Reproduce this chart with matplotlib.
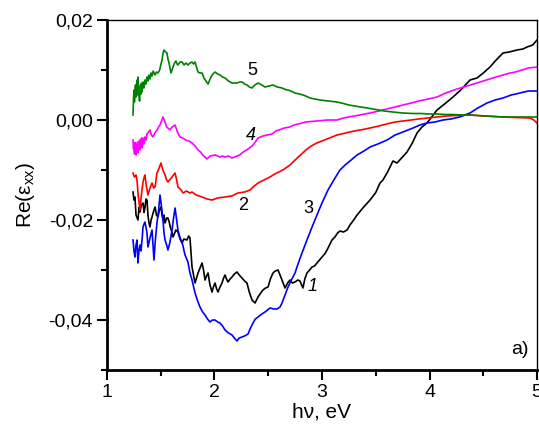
import matplotlib
matplotlib.use("Agg")
import matplotlib.pyplot as plt
from matplotlib.ticker import MultipleLocator, FuncFormatter

plt.rcParams['font.family'] = ['Liberation Sans', 'DejaVu Sans']
plt.rcParams['mathtext.fontset'] = 'custom'
plt.rcParams['mathtext.rm'] = 'Liberation Sans'
plt.rcParams['mathtext.it'] = 'Liberation Sans:italic'

# (photon energy eV, Re(eps_xx))
curve1 = [(1.242,-0.0144),(1.251,-0.0160),(1.260,-0.0154),(1.270,-0.0190),(1.288,-0.0200),(1.298,-0.0175),
          (1.307,-0.0184),(1.320,-0.0170),(1.335,-0.0166),(1.345,-0.0185),(1.353,-0.0175),(1.363,-0.0158),
          (1.372,-0.0160),(1.381,-0.0190),(1.390,-0.0205),(1.400,-0.0214),(1.410,-0.0200),(1.419,-0.0194),
          (1.430,-0.0185),(1.447,-0.0174),(1.460,-0.0190),(1.474,-0.0194),(1.488,-0.0180),(1.502,-0.0174),
          (1.512,-0.0190),(1.521,-0.0200),(1.530,-0.0190),(1.540,-0.0206),(1.555,-0.0196),(1.567,-0.0196),
          (1.580,-0.0205),(1.590,-0.0215),(1.605,-0.0225),(1.614,-0.0234),(1.630,-0.0226),(1.640,-0.0220),
          (1.660,-0.0224),(1.680,-0.0238),(1.698,-0.0246),(1.715,-0.0238),(1.744,-0.0240),(1.760,-0.0232),
          (1.772,-0.0236),(1.791,-0.0294),(1.819,-0.0326),(1.847,-0.0306),(1.865,-0.0296),(1.884,-0.0286),
          (1.898,-0.0300),(1.912,-0.0320),(1.926,-0.0312),(1.940,-0.0306),(1.958,-0.0330),(1.977,-0.0344),
          (1.990,-0.0334),(2.005,-0.0326),(2.020,-0.0338),(2.033,-0.0344),(2.051,-0.0334),(2.070,-0.0326),
          (2.085,-0.0316),(2.098,-0.0310),(2.112,-0.0318),(2.126,-0.0324),(2.145,-0.0318),(2.163,-0.0314),
          (2.185,-0.0308),(2.209,-0.0304),(2.230,-0.0310),(2.256,-0.0316),(2.280,-0.0322),(2.302,-0.0326),
          (2.325,-0.0345),(2.349,-0.0360),(2.377,-0.0366),(2.405,-0.0354),(2.430,-0.0346),(2.451,-0.0340),
          (2.475,-0.0336),(2.498,-0.0334),(2.520,-0.0318),(2.544,-0.0306),(2.565,-0.0302),(2.591,-0.0300),
          (2.610,-0.0310),(2.628,-0.0320),(2.656,-0.0336),(2.680,-0.0326),(2.702,-0.0320),(2.725,-0.0326),
          (2.749,-0.0324),(2.775,-0.0320),(2.795,-0.0322),(2.823,-0.0336),(2.840,-0.0318),(2.860,-0.0306),
          (2.885,-0.0300),(2.907,-0.0294),(2.930,-0.0292),(2.953,-0.0286),(2.975,-0.0280),(3.000,-0.0274),
          (3.025,-0.0268),(3.047,-0.0260),(3.070,-0.0250),(3.093,-0.0240),(3.120,-0.0234),(3.145,-0.0226),
          (3.167,-0.0222),(3.200,-0.0224),(3.233,-0.0220),(3.260,-0.0210),(3.288,-0.0202),(3.326,-0.0190),
          (3.380,-0.0176),(3.447,-0.0160),(3.500,-0.0145),(3.540,-0.0126),(3.567,-0.0120),(3.610,-0.0104),
          (3.660,-0.0082),(3.698,-0.0086),(3.740,-0.0076),(3.791,-0.0064),(3.840,-0.0046),(3.884,-0.0026),
          (3.930,-0.0014),(3.977,-0.0006),(4.020,0.0006),(4.070,0.0020),(4.140,0.0032),(4.219,0.0046),
          (4.300,0.0062),(4.377,0.0080),(4.442,0.0084),(4.500,0.0094),(4.563,0.0106),(4.620,0.0120),
          (4.684,0.0134),(4.740,0.0136),(4.814,0.0140),(4.870,0.0142),(4.907,0.0146),(4.960,0.0150),
          (5.000,0.0160)]

curve2 = [(1.242,-0.0106),(1.255,-0.0114),(1.270,-0.0110),(1.279,-0.0120),(1.290,-0.0150),(1.307,-0.0180),
          (1.320,-0.0150),(1.335,-0.0124),(1.345,-0.0115),(1.353,-0.0110),(1.365,-0.0130),(1.381,-0.0150),
          (1.400,-0.0136),(1.419,-0.0126),(1.435,-0.0136),(1.447,-0.0134),(1.465,-0.0106),(1.485,-0.0096),
          (1.502,-0.0086),(1.520,-0.0100),(1.540,-0.0110),(1.555,-0.0120),(1.567,-0.0124),(1.590,-0.0118),
          (1.605,-0.0114),(1.633,-0.0106),(1.648,-0.0120),(1.660,-0.0134),(1.690,-0.0140),(1.707,-0.0146),
          (1.740,-0.0142),(1.770,-0.0146),(1.791,-0.0144),(1.830,-0.0150),(1.860,-0.0152),(1.884,-0.0154),
          (1.930,-0.0158),(1.977,-0.0160),(2.030,-0.0156),(2.098,-0.0154),(2.160,-0.0152),(2.219,-0.0146),
          (2.280,-0.0144),(2.330,-0.0140),(2.370,-0.0132),(2.405,-0.0126),(2.460,-0.0120),(2.516,-0.0114),
          (2.560,-0.0108),(2.600,-0.0104),(2.650,-0.0098),(2.702,-0.0090),(2.750,-0.0080),(2.800,-0.0070),
          (2.850,-0.0060),(2.900,-0.0052),(2.950,-0.0046),(3.000,-0.0042),(3.070,-0.0036),(3.140,-0.0030),
          (3.220,-0.0026),(3.300,-0.0022),(3.380,-0.0019),(3.447,-0.0016),(3.530,-0.0012),(3.600,-0.0008),
          (3.680,-0.0004),(3.753,-0.0002),(3.830,0.0000),(3.900,0.0002),(3.980,0.0004),(4.070,0.0006),
          (4.150,0.0008),(4.250,0.0009),(4.377,0.0010),(4.500,0.0008),(4.600,0.0007),(4.684,0.0006),
          (4.800,0.0005),(4.935,0.0004),(4.970,0.0000),(5.000,-0.0006)]

curve3 = [(1.242,-0.0240),(1.251,-0.0262),(1.260,-0.0274),(1.270,-0.0250),(1.279,-0.0240),(1.288,-0.0286),
          (1.298,-0.0260),(1.307,-0.0250),(1.316,-0.0262),(1.326,-0.0240),(1.335,-0.0214),(1.345,-0.0208),
          (1.353,-0.0204),(1.363,-0.0215),(1.372,-0.0226),(1.381,-0.0254),(1.400,-0.0236),(1.419,-0.0220),
          (1.428,-0.0250),(1.437,-0.0280),(1.450,-0.0240),(1.465,-0.0206),(1.480,-0.0180),(1.493,-0.0150),
          (1.505,-0.0170),(1.521,-0.0200),(1.530,-0.0225),(1.540,-0.0240),(1.555,-0.0250),(1.567,-0.0260),
          (1.585,-0.0245),(1.605,-0.0220),(1.620,-0.0195),(1.633,-0.0176),(1.645,-0.0195),(1.660,-0.0220),
          (1.680,-0.0236),(1.698,-0.0244),(1.726,-0.0270),(1.753,-0.0284),(1.772,-0.0306),(1.791,-0.0320),
          (1.819,-0.0346),(1.840,-0.0360),(1.865,-0.0374),(1.890,-0.0384),(1.912,-0.0390),(1.935,-0.0398),
          (1.958,-0.0404),(1.980,-0.0400),(2.005,-0.0400),(2.030,-0.0404),(2.051,-0.0406),(2.075,-0.0412),
          (2.098,-0.0420),(2.130,-0.0426),(2.163,-0.0430),(2.185,-0.0436),(2.209,-0.0442),(2.230,-0.0436),
          (2.256,-0.0434),(2.280,-0.0432),(2.312,-0.0428),(2.335,-0.0416),(2.358,-0.0406),(2.380,-0.0398),
          (2.405,-0.0394),(2.440,-0.0388),(2.470,-0.0384),(2.516,-0.0376),(2.550,-0.0378),(2.581,-0.0378),
          (2.610,-0.0374),(2.628,-0.0366),(2.656,-0.0350),(2.684,-0.0334),(2.715,-0.0320),(2.749,-0.0306),
          (2.780,-0.0286),(2.814,-0.0266),(2.860,-0.0240),(2.900,-0.0218),(2.953,-0.0190),(3.000,-0.0166),
          (3.056,-0.0140),(3.110,-0.0120),(3.167,-0.0100),(3.215,-0.0090),(3.260,-0.0082),(3.326,-0.0070),
          (3.390,-0.0062),(3.447,-0.0054),(3.520,-0.0048),(3.605,-0.0040),(3.680,-0.0030),(3.753,-0.0024),
          (3.800,-0.0020),(3.847,-0.0016),(3.910,-0.0010),(3.977,-0.0006),(4.050,-0.0004),(4.126,0.0000),
          (4.200,0.0002),(4.280,0.0006),(4.377,0.0014),(4.450,0.0024),(4.535,0.0034),(4.610,0.0040),
          (4.684,0.0044),(4.760,0.0050),(4.842,0.0054),(4.920,0.0058),(5.000,0.0058)]

curve4 = [(1.242,-0.0040),(1.247,-0.0058),(1.251,-0.0048),(1.256,-0.0068),(1.260,-0.0045),(1.265,-0.0064),
          (1.270,-0.0070),(1.275,-0.0050),(1.279,-0.0062),(1.284,-0.0044),(1.288,-0.0066),(1.293,-0.0050),
          (1.298,-0.0058),(1.303,-0.0040),(1.307,-0.0060),(1.312,-0.0042),(1.316,-0.0052),(1.321,-0.0036),
          (1.326,-0.0056),(1.330,-0.0040),(1.335,-0.0036),(1.344,-0.0048),(1.353,-0.0034),(1.362,-0.0040),
          (1.372,-0.0028),(1.386,-0.0024),(1.400,-0.0020),(1.414,-0.0030),(1.428,-0.0034),(1.446,-0.0026),
          (1.465,-0.0020),(1.480,-0.0014),(1.493,-0.0010),(1.507,-0.0002),(1.521,0.0006),(1.540,-0.0004),
          (1.555,-0.0014),(1.567,-0.0016),(1.586,-0.0020),(1.605,-0.0014),(1.633,-0.0010),(1.655,-0.0024),
          (1.679,-0.0034),(1.705,-0.0036),(1.730,-0.0040),(1.760,-0.0042),(1.791,-0.0046),(1.820,-0.0052),
          (1.847,-0.0060),(1.870,-0.0064),(1.890,-0.0070),(1.910,-0.0074),(1.930,-0.0078),(1.960,-0.0072),
          (2.005,-0.0070),(2.030,-0.0072),(2.050,-0.0074),(2.075,-0.0072),(2.098,-0.0074),(2.130,-0.0072),
          (2.163,-0.0076),(2.190,-0.0074),(2.210,-0.0072),(2.235,-0.0070),(2.256,-0.0066),(2.280,-0.0062),
          (2.300,-0.0060),(2.325,-0.0056),(2.349,-0.0052),(2.380,-0.0044),(2.405,-0.0036),(2.450,-0.0032),
          (2.490,-0.0030),(2.535,-0.0028),(2.570,-0.0022),(2.600,-0.0020),(2.650,-0.0016),(2.700,-0.0014),
          (2.740,-0.0010),(2.780,-0.0008),(2.850,-0.0004),(2.950,-0.0002),(3.050,0.0000),(3.140,0.0000),
          (3.200,0.0004),(3.250,0.0006),(3.300,0.0008),(3.350,0.0010),(3.447,0.0014),(3.530,0.0018),
          (3.600,0.0022),(3.680,0.0026),(3.753,0.0030),(3.830,0.0034),(3.900,0.0038),(3.990,0.0042),
          (4.070,0.0046),(4.150,0.0054),(4.256,0.0062),(4.350,0.0068),(4.440,0.0074),(4.500,0.0078),
          (4.560,0.0082),(4.620,0.0086),(4.684,0.0090),(4.750,0.0094),(4.800,0.0096),(4.860,0.0100),
          (4.920,0.0104),(5.000,0.0106)]

curve5 = [(1.242,0.0010),(1.246,0.0040),(1.251,0.0060),(1.255,0.0036),(1.260,0.0050),(1.265,0.0070),
          (1.270,0.0046),(1.274,0.0064),(1.279,0.0080),(1.284,0.0050),(1.288,0.0086),(1.293,0.0060),
          (1.298,0.0050),(1.303,0.0038),(1.307,0.0060),(1.312,0.0070),(1.316,0.0052),(1.321,0.0074),
          (1.326,0.0056),(1.331,0.0066),(1.335,0.0076),(1.344,0.0064),(1.353,0.0080),(1.362,0.0072),
          (1.372,0.0086),(1.381,0.0078),(1.390,0.0090),(1.400,0.0082),(1.410,0.0094),(1.419,0.0088),
          (1.430,0.0098),(1.447,0.0090),(1.460,0.0096),(1.474,0.0094),(1.490,0.0100),(1.500,0.0110),
          (1.512,0.0120),(1.520,0.0132),(1.530,0.0140),(1.545,0.0136),(1.558,0.0134),(1.567,0.0122),
          (1.577,0.0114),(1.586,0.0104),(1.595,0.0094),(1.605,0.0100),(1.614,0.0106),(1.628,0.0114),
          (1.642,0.0118),(1.651,0.0112),(1.660,0.0110),(1.680,0.0116),(1.698,0.0116),(1.717,0.0110),
          (1.735,0.0114),(1.753,0.0110),(1.772,0.0114),(1.791,0.0116),(1.805,0.0112),(1.819,0.0116),
          (1.835,0.0104),(1.847,0.0096),(1.865,0.0094),(1.884,0.0094),(1.902,0.0084),(1.920,0.0078),
          (1.940,0.0072),(1.955,0.0080),(1.967,0.0086),(1.985,0.0092),(2.005,0.0096),(2.030,0.0092),
          (2.051,0.0090),(2.075,0.0086),(2.098,0.0084),(2.130,0.0078),(2.163,0.0074),(2.190,0.0074),
          (2.209,0.0074),(2.235,0.0076),(2.256,0.0076),(2.280,0.0072),(2.302,0.0070),(2.325,0.0066),
          (2.349,0.0064),(2.375,0.0070),(2.405,0.0074),(2.440,0.0070),(2.470,0.0066),(2.505,0.0068),
          (2.544,0.0070),(2.585,0.0066),(2.628,0.0064),(2.660,0.0061),(2.684,0.0060),(2.720,0.0057),
          (2.749,0.0054),(2.790,0.0052),(2.823,0.0050),(2.860,0.0047),(2.888,0.0044),(2.935,0.0042),
          (2.980,0.0040),(3.060,0.0038),(3.140,0.0036),(3.200,0.0033),(3.250,0.0030),(3.330,0.0027),
          (3.420,0.0024),(3.500,0.0021),(3.580,0.0018),(3.660,0.0016),(3.750,0.0014),(3.840,0.0013),
          (3.920,0.0013),(4.000,0.0012),(4.070,0.0012),(4.150,0.0011),(4.220,0.0011),(4.300,0.0010),
          (4.380,0.0010),(4.450,0.0009),(4.530,0.0008),(4.600,0.0007),(4.680,0.0006),(4.760,0.0006),
          (4.850,0.0006),(4.930,0.0006),(5.000,0.0006)]

series = [(curve1, 'black'), (curve2, 'red'), (curve3, 'blue'), (curve4, 'magenta'), (curve5, 'green')]

labels = ['1', '2', '3', '4', '5']
label_xy = [(2.91, -0.0332), (2.27, -0.0170), (2.87, -0.0176), (2.34, -0.0030), (2.35, 0.0100)]
label_style = ['italic', 'normal', 'normal', 'italic', 'normal']

fig = plt.figure(figsize=(5.39, 4.32), dpi=100)
ax = fig.add_axes([0.1985, 0.1435, 0.7978, 0.8102])

for data, color in series:
    xs = [p[0] for p in data]
    ys = [p[1] for p in data]
    ax.plot(xs, ys, color=color, lw=1.2)

for lab, (lx, ly), st in zip(labels, label_xy, label_style):
    ax.text(lx, ly, lab, fontsize=13, style=st, ha='center', va='center')

ax.text(4.84, -0.0458, 'a)', fontsize=14, ha='center', va='center')

ax.set_xlim(1, 5)
ax.set_ylim(-0.05, 0.02)
ax.xaxis.set_major_locator(MultipleLocator(1))
ax.xaxis.set_minor_locator(MultipleLocator(0.5))
ax.yaxis.set_major_locator(MultipleLocator(0.02))
ax.yaxis.set_minor_locator(MultipleLocator(0.01))
ax.yaxis.set_major_formatter(FuncFormatter(lambda v, p: f"{v:.2f}".replace('.', ',') if abs(v) > 1e-9 else "0,00"))
ax.xaxis.set_major_formatter(FuncFormatter(lambda v, p: f"{v:.0f}"))

ax.tick_params(which='major', direction='out', length=7, width=1.5, labelsize=14, pad=3)
ax.tick_params(which='minor', direction='out', length=4, width=1.5)
ax.tick_params(top=False, right=False)

ax.spines['left'].set_linewidth(2)
ax.spines['bottom'].set_linewidth(2)
ax.spines['top'].set_linewidth(1)
ax.spines['right'].set_linewidth(1)

ax.set_xlabel('hν, eV', fontsize=15, labelpad=1)
ax.set_ylabel(r'Re(ε$_{\mathregular{xx}}$)', fontsize=15, labelpad=8)

fig.savefig('out.png', dpi=100)
